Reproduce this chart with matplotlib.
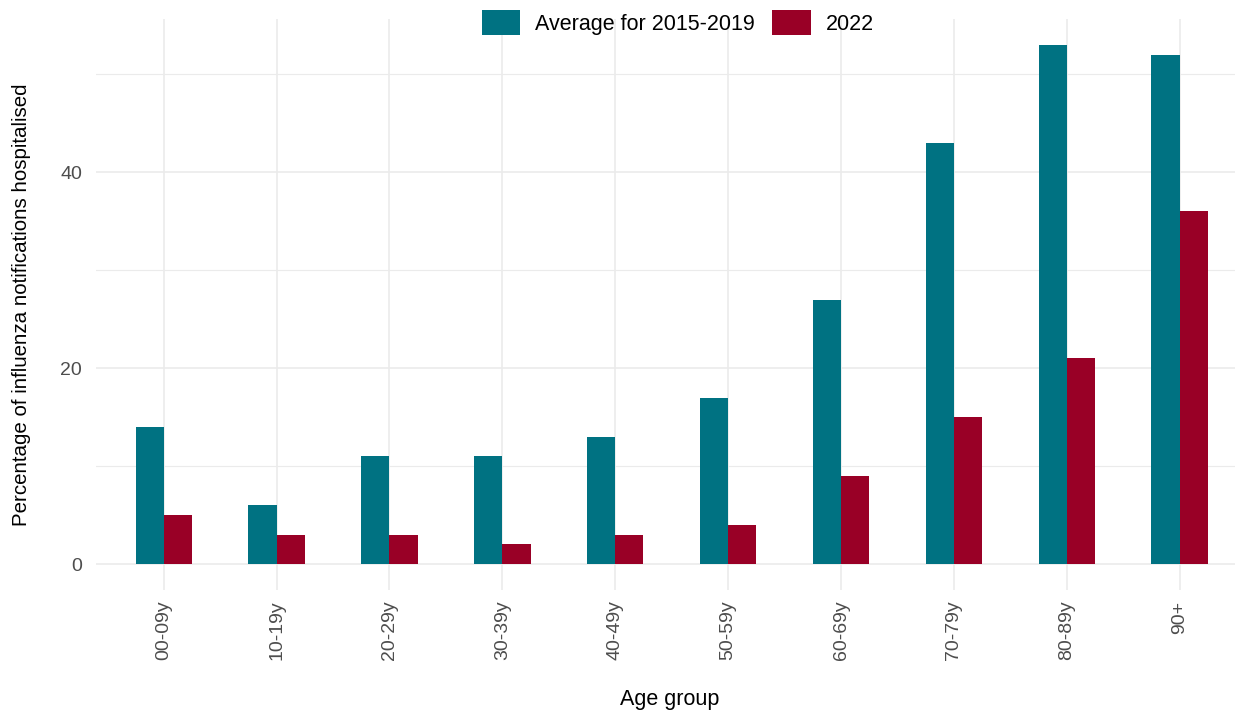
import numpy as np
import matplotlib.pyplot as plt
from matplotlib.ticker import MultipleLocator

plt.rcParams["font.family"] = ["Liberation Sans", "DejaVu Sans"]

# Data
age_groups = ["00-09y", "10-19y", "20-29y", "30-39y", "40-49y",
              "50-59y", "60-69y", "70-79y", "80-89y", "90+"]
avg_2015_2019 = [14, 6, 11, 11, 13, 17, 27, 43, 53, 52]
year_2022 = [5, 3, 3, 2, 3, 4, 9, 15, 21, 36]

teal = "#007282"
crimson = "#990026"
grid_col = "#ebebeb"
text_col = "#4d4d4d"

fig = plt.figure(figsize=(12.37, 7.13), dpi=100)
ax = fig.add_axes([96 / 1237, (713 - 590) / 713, (1235 - 96) / 1237, (590 - 19) / 713])

x = np.arange(len(age_groups))
w = 0.25
ax.bar(x - w / 2, avg_2015_2019, width=w, color=teal, label="Average for 2015-2019", zorder=3)
ax.bar(x + w / 2, year_2022, width=w, color=crimson, label="2022", zorder=3)

ax.set_xlim(-0.6, 9.49)
ax.set_ylim(-2.65, 55.65)
ax.set_xticks(x)
ax.set_xticklabels(age_groups, rotation=90, color=text_col, fontsize=14)
ax.yaxis.set_minor_locator(MultipleLocator(10))
ax.set_yticks([0, 20, 40])
ax.tick_params(axis="y", labelcolor=text_col, labelsize=14, pad=10)
ax.tick_params(axis="x", pad=7.5)
ax.tick_params(axis="both", which="both", length=0)

ax.grid(which="major", color=grid_col, linewidth=1.2, zorder=0)
ax.grid(which="minor", axis="y", color=grid_col, linewidth=0.8, zorder=0)
for s in ax.spines.values():
    s.set_visible(False)

# axis titles
fig.text(670 / 1237, 1 - 700 / 713, "Age group", fontsize=15.5, ha="center", va="center")
fig.text(22 / 1237, 1 - 305 / 713, "Percentage of influenza notifications hospitalised",
         fontsize=14.8, rotation=90, ha="center", va="center")

fig.legend(loc="center", bbox_to_anchor=(678 / 1237, 1 - 22.5 / 713), ncol=2, frameon=False,
           fontsize=15.5, handlelength=1.77, handleheight=1.45, columnspacing=0.8,
           handletextpad=0.7, borderpad=0)

plt.savefig("out.png", dpi=100)
